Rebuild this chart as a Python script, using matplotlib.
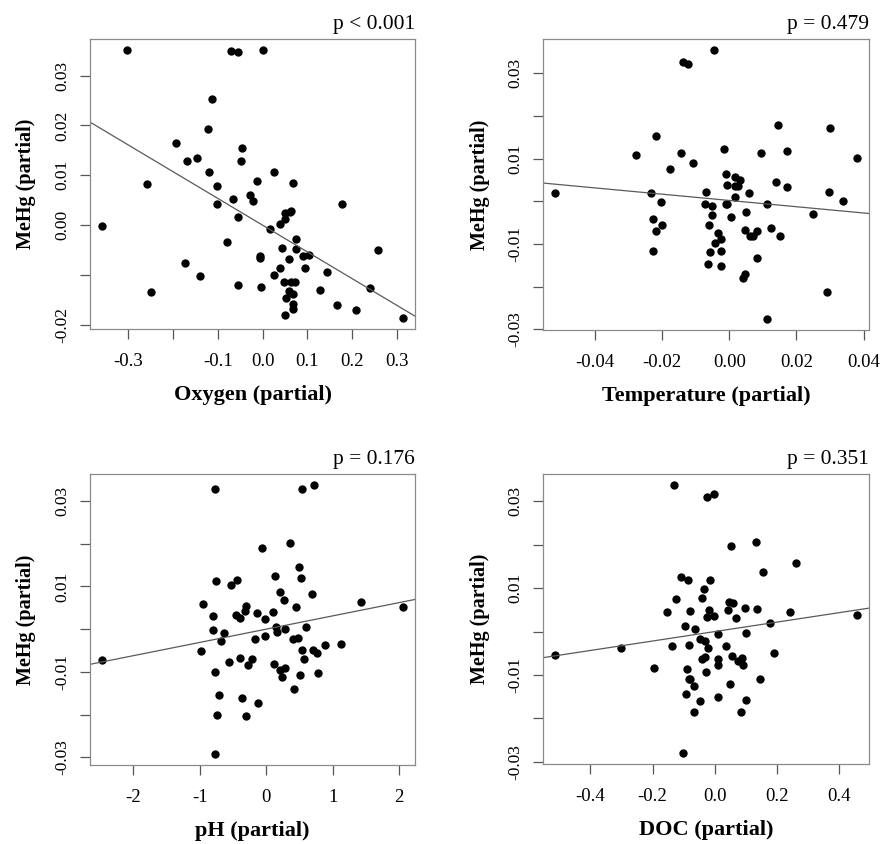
import matplotlib
matplotlib.use("Agg")
import matplotlib.pyplot as plt
import numpy as np

plt.rcParams['font.family'] = ['Liberation Serif', 'DejaVu Serif']

# partial residuals
oxygen = [-0.303, -0.070, -0.055, 0.001, -0.113, -0.121, -0.193, -0.045, -0.170, -0.146, -0.048,
          -0.119, 0.025, -0.259, -0.012, 0.067, -0.103, -0.027, -0.065, -0.022, -0.101, 0.177,
          0.050, 0.061, 0.063, -0.056, 0.050, 0.039, -0.359, 0.016, -0.079, 0.074, 0.044, 0.074,
          0.259, -0.006, -0.006, 0.059, 0.090, 0.104, -0.173, 0.039, 0.096, 0.144, 0.025, -0.139,
          0.048, 0.064, 0.073, -0.054, -0.004, 0.060, 0.129, 0.241, -0.250, 0.068, 0.053, 0.067,
          0.067, 0.167, 0.208, 0.051, 0.314]
mehg_oxygen = [0.0352, 0.0350, 0.0347, 0.0351, 0.0253, 0.0193, 0.0165, 0.0154, 0.0129, 0.0134,
               0.0128, 0.0107, 0.0107, 0.0083, 0.0089, 0.0085, 0.0078, 0.0060, 0.0053, 0.0049,
               0.0042, 0.0042, 0.0025, 0.0027, 0.0029, 0.0017, 0.0012, 0.0003, -0.0001, -0.0008,
               -0.0033, -0.0027, -0.0046, -0.0047, -0.0049, -0.0062, -0.0067, -0.0068, -0.0063,
               -0.0061, -0.0077, -0.0086, -0.0087, -0.0094, -0.0100, -0.0103, -0.0115, -0.0115,
               -0.0115, -0.0121, -0.0125, -0.0133, -0.0131, -0.0126, -0.0135, -0.0139, -0.0147,
               -0.0159, -0.0168, -0.0161, -0.0170, -0.0181, -0.0187]

temperature = [-0.0519, -0.0277, -0.0218, -0.0144, -0.0107, -0.0178, -0.0138, -0.0123, -0.0047,
               -0.0015, -0.0009, -0.0006, 0.0018, 0.0032, 0.0018, 0.0026, 0.0016, 0.0058, -0.0070,
               -0.0234, -0.0203, -0.0073, -0.0052, -0.0011, -0.0008, -0.0053, 0.0004, 0.0050,
               0.0113, 0.0095, 0.0145, 0.0173, 0.0140, 0.0173, 0.0248, 0.0301, 0.0380, 0.0296,
               0.0338, -0.0226, -0.0202, -0.0218, -0.0226, -0.0061, -0.0034, -0.0025, -0.0042,
               -0.0057, -0.0025, -0.0063, -0.0026, 0.0046, 0.0061, 0.0071, 0.0082, 0.0125, 0.0152,
               0.0082, 0.0048, 0.0040, 0.0292, 0.0112]
mehg_temperature = [0.0019, 0.0108, 0.0152, 0.0113, 0.0090, 0.0076, 0.0327, 0.0321, 0.0355, 0.0123,
                    0.0063, 0.0038, 0.0058, 0.0050, 0.0037, 0.0037, 0.0011, 0.0020, 0.0023, 0.0020,
                    -0.0002, -0.0006, -0.0010, -0.0005, -0.0006, -0.0031, -0.0036, -0.0026, -0.0006,
                    0.0114, 0.0180, 0.0119, 0.0046, 0.0034, -0.0029, 0.0171, 0.0102, 0.0023, 0.0000,
                    -0.0041, -0.0056, -0.0070, -0.0116, -0.0056, -0.0075, -0.0087, -0.0098, -0.0119,
                    -0.0116, -0.0146, -0.0152, -0.0067, -0.0080, -0.0081, -0.0069, -0.0063, -0.0080,
                    -0.0132, -0.0171, -0.0180, -0.0213, -0.0276]

ph = [-2.48, -0.98, -0.95, -0.80, -0.805, -0.635, -0.685, -0.775, -0.76, -0.53, -0.44, -0.46, -0.40,
      -0.305, -0.315, -0.145, -0.015, -0.175, -0.02, -0.065, 0.355, 0.13, 0.20, 0.27, 0.10, 0.49,
      0.515, 0.45, 0.68, 0.14, 0.165, 0.275, 0.395, 0.48, 0.595, 0.535, 0.70, 0.76, 0.88, 1.13,
      1.42, 2.055, 0.535, 0.71, 0.565, -0.56, -0.40, -0.27, -0.21, 0.115, 0.205, 0.275, 0.23, 0.50,
      0.78, 0.42, -0.775, -0.72, -0.365, -0.12, -0.745, -0.31, -0.775]
mehg_ph = [-0.0073, -0.0052, 0.0059, 0.0030, -0.0002, -0.0008, -0.0027, 0.0328, 0.0113, 0.0104,
           0.0116, 0.0032, 0.0025, 0.0054, 0.0042, 0.0038, 0.0023, -0.0024, -0.0017, 0.0189, 0.0201,
           0.0124, 0.0088, 0.0067, 0.0041, 0.0145, 0.0119, 0.0052, 0.0083, 0.0005, -0.0007, 0.0001,
           -0.0024, -0.0020, 0.0004, -0.0048, -0.0048, -0.0055, -0.0037, -0.0035, 0.0063, 0.0052,
           0.0328, 0.0338, -0.0071, -0.0076, -0.0068, -0.0084, -0.0069, -0.0082, -0.0095, -0.0092,
           -0.0112, -0.0108, -0.0102, -0.0141, -0.0100, -0.0155, -0.0162, -0.0173, -0.0201,
           -0.0203, -0.0293]

doc = [-0.514, -0.302, -0.195, -0.154, -0.125, -0.136, -0.132, -0.107, -0.087, -0.016, -0.035,
       -0.042, -0.078, -0.019, -0.025, -0.001, -0.096, -0.062, -0.082, -0.046, -0.030, -0.021,
       0.011, -0.025, -0.003, 0.051, 0.134, 0.154, 0.263, 0.046, 0.060, 0.043, 0.097, 0.137, 0.070,
       0.102, 0.178, 0.242, 0.458, 0.036, 0.191, 0.057, 0.089, 0.076, 0.091, 0.012, 0.012, -0.041,
       -0.030, -0.029, -0.089, -0.081, -0.082, -0.068, -0.093, -0.046, -0.066, 0.012, 0.049, 0.145,
       0.101, 0.086, -0.101]
mehg_doc = [-0.0053, -0.0038, -0.0083, 0.0046, 0.0075, -0.0032, 0.0338, 0.0125, 0.0119, 0.0119,
            0.0099, 0.0078, 0.0047, 0.0050, 0.0034, 0.0037, 0.0013, 0.0005, -0.0031, -0.0017,
            -0.0021, -0.0038, -0.0005, 0.0310, 0.0317, 0.0196, 0.0206, 0.0137, 0.0159, 0.0067,
            0.0065, 0.0050, 0.0054, 0.0053, 0.0031, -0.0003, 0.0020, 0.0044, 0.0038, -0.0032,
            -0.0050, -0.0057, -0.0060, -0.0067, -0.0076, -0.0063, -0.0078, -0.0063, -0.0059,
            -0.0092, -0.0086, -0.0110, -0.0109, -0.0125, -0.0143, -0.0159, -0.0185, -0.0150,
            -0.0121, -0.0108, -0.0157, -0.0184, -0.0280]

p_labels = ["p < 0.001", "p = 0.479", "p = 0.176", "p = 0.351"]
x_names = ["Oxygen (partial)", "Temperature (partial)", "pH (partial)", "DOC (partial)"]

x_ticks = [[-0.3, -0.2, -0.1, 0.0, 0.1, 0.2, 0.3],
           [-0.04, -0.02, 0.0, 0.02, 0.04],
           [-2, -1, 0, 1, 2],
           [-0.4, -0.2, 0.0, 0.2, 0.4]]
x_ticklabels = [["-0.3", "", "-0.1", "0.0", "0.1", "0.2", "0.3"],
                ["-0.04", "-0.02", "0.00", "0.02", "0.04"],
                ["-2", "-1", "0", "1", "2"],
                ["-0.4", "-0.2", "0.0", "0.2", "0.4"]]
y_ticks = [[-0.02, -0.01, 0.0, 0.01, 0.02, 0.03]] + [[-0.03, -0.02, -0.01, 0.0, 0.01, 0.02, 0.03]] * 3
y_ticklabels = [["-0.02", "", "0.00", "0.01", "0.02", "0.03"]] + \
               [["-0.03", "", "-0.01", "", "0.01", "", "0.03"]] * 3

xs = [oxygen, temperature, ph, doc]
ys = [mehg_oxygen, mehg_temperature, mehg_ph, mehg_doc]

W, H = 884, 844
fig = plt.figure(figsize=(W / 100, H / 100), dpi=100)
# panel boxes in pixels: left, top, right, bottom
boxes = [(90, 39, 415, 329), (543, 39, 869, 330), (89.5, 474, 415, 765), (543, 474, 869, 764)]

box_col = "#8a8a8a"
for i in range(4):
    l, t, r, b = boxes[i]
    ax = fig.add_axes([l / W, 1 - b / H, (r - l) / W, (b - t) / H])
    x = np.array(xs[i])
    y = np.array(ys[i])
    ax.plot(x, y, 'o', color='black', ms=6.0, mew=0)

    # R-style 4% axis extension
    xr = x.max() - x.min()
    yr = y.max() - y.min()
    xlim = (x.min() - 0.04 * xr, x.max() + 0.04 * xr)
    ax.set_xlim(xlim)
    ax.set_ylim(y.min() - 0.04 * yr, y.max() + 0.04 * yr)

    slope, icpt = np.polyfit(x, y, 1)
    lx = np.array(xlim)
    ax.plot(lx, icpt + slope * lx, color='#5a5a5a', lw=0.9)

    ax.set_xticks(x_ticks[i])
    ax.set_xticklabels(x_ticklabels[i], fontsize=13.5)
    ax.set_yticks(y_ticks[i])
    ax.set_yticklabels(y_ticklabels[i], fontsize=12.5, rotation=90, va='center')
    ax.tick_params(direction='out', length=7, width=0.9, color='#555555')
    ax.tick_params(axis='x', pad=10)
    ax.tick_params(axis='y', pad=7)
    for s in ax.spines.values():
        s.set_color(box_col)
        s.set_linewidth(0.9)

    ax.set_xlabel(x_names[i], fontsize=16, fontweight='bold', labelpad=11)
    ax.set_ylabel("MeHg (partial)", fontsize=14.5, fontweight='bold', labelpad=13)
    ax.set_title(p_labels[i], loc='right', fontsize=15.5, pad=7)

fig.savefig("out.png", dpi=100)
